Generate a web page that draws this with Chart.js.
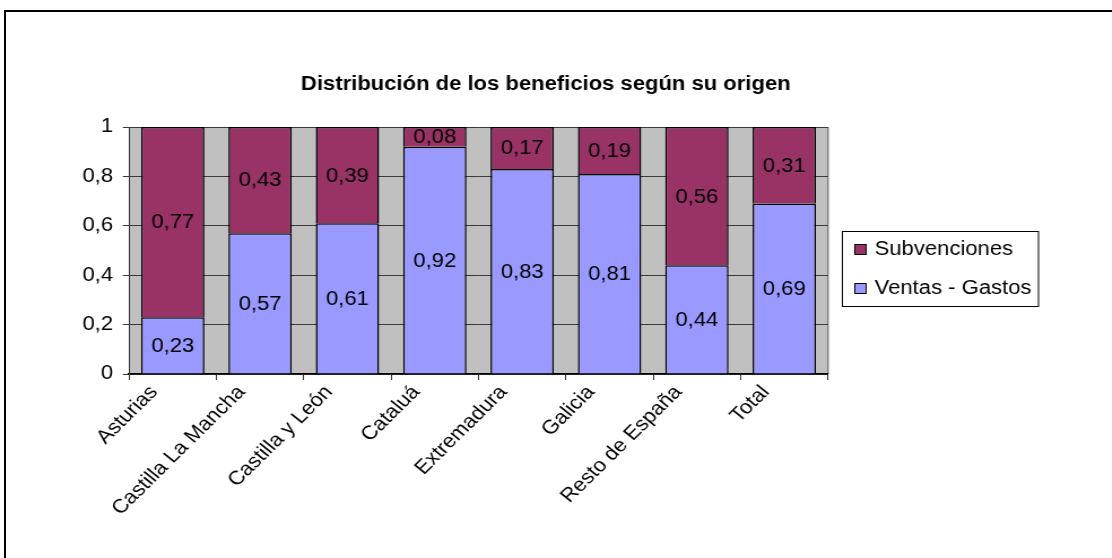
<!DOCTYPE html>
<html>
<head>
<meta charset="utf-8">
<title>Distribución de los beneficios según su origen</title>
<script src="https://cdn.jsdelivr.net/npm/chart.js@4"></script>
<style>
  html, body { margin: 0; padding: 0; background: #fff; overflow: hidden; }
  #frame { position: absolute; left: 4px; top: 10px; width: 1200px; height: 700px;
           border-left: 2px solid #000; border-top: 2px solid #000; }
  #wrap { position: absolute; left: 0; top: 0; width: 984px; height: 558px;
          transform: scaleX(1.13); transform-origin: 0 0; }
</style>
</head>
<body>
<div id="frame"></div>
<div id="wrap"><canvas id="chart" width="984" height="558"></canvas></div>
<script>
// data
var categories = ['Asturias', 'Castilla La Mancha', 'Castilla y León', 'Cataluá',
                  'Extremadura', 'Galicia', 'Resto de España', 'Total'];
var ventasGastos = [0.23, 0.57, 0.61, 0.92, 0.83, 0.81, 0.44, 0.69];
var subvenciones = [0.77, 0.43, 0.39, 0.08, 0.17, 0.19, 0.56, 0.31];
var yTickLabels = ['0', '0,2', '0,4', '0,6', '0,8', '1'];
var chartTitle = 'Distribución de los beneficios según su origen';

var FONT = "'Liberation Sans', Arial, sans-serif";
Chart.defaults.font.family = FONT;
Chart.defaults.font.size = 19.5;
Chart.defaults.color = '#000';

// grey plot area + right edge
var plotBackground = {
    id: 'plotBackground',
    beforeDraw: function(chart) {
        var a = chart.chartArea, ctx = chart.ctx;
        ctx.save();
        ctx.fillStyle = '#c0c0c0';
        ctx.fillRect(a.left, a.top, a.right - a.left, a.bottom - a.top);
        ctx.strokeStyle = '#808080';
        ctx.lineWidth = 1.5;
        ctx.beginPath();
        ctx.moveTo(a.right, a.top);
        ctx.lineTo(a.right, a.bottom);
        ctx.stroke();
        ctx.restore();
    }
};

// value labels centred in each segment
var segmentLabels = {
    id: 'segmentLabels',
    afterDatasetsDraw: function(chart) {
        var ctx = chart.ctx;
        ctx.save();
        ctx.font = '19.5px ' + FONT;
        ctx.fillStyle = '#000';
        ctx.textAlign = 'center';
        ctx.textBaseline = 'middle';
        chart.data.datasets.forEach(function(ds, i) {
            chart.getDatasetMeta(i).data.forEach(function(bar, j) {
                var txt = ds.data[j].toFixed(2).replace('.', ',');
                ctx.fillText(txt, bar.x, (bar.y + bar.base) / 2 + 1);
            });
        });
        ctx.restore();
    }
};

// title and boxed legend, Excel style
var titleAndLegend = {
    id: 'titleAndLegend',
    afterDraw: function(chart) {
        var ctx = chart.ctx;
        ctx.save();
        ctx.fillStyle = '#000';
        ctx.font = 'bold 19.5px ' + FONT;
        ctx.textAlign = 'center';
        ctx.textBaseline = 'alphabetic';
        ctx.fillText(chartTitle, 483, 89.5);

        var bx = 745, by = 231, bw = 173.5, bh = 75;
        ctx.strokeStyle = '#000';
        ctx.lineWidth = 1;
        ctx.strokeRect(bx + 0.5, by + 0.5, bw, bh);
        var items = chart.data.datasets.slice().reverse();
        ctx.font = '19.5px ' + FONT;
        ctx.textAlign = 'left';
        ctx.textBaseline = 'middle';
        items.forEach(function(ds, k) {
            var cy = 249 + k * 39;
            ctx.fillStyle = ds.backgroundColor;
            ctx.fillRect(756, cy - 5, 11, 11);
            ctx.strokeStyle = '#000';
            ctx.strokeRect(756.5, cy - 4.5, 10, 10);
            ctx.fillStyle = '#000';
            ctx.fillText(ds.label, 774, cy + 1);
        });
        ctx.restore();
    }
};

new Chart(document.getElementById('chart'), {
    type: 'bar',
    data: {
        labels: categories,
        datasets: [{
            label: 'Ventas - Gastos',
            data: ventasGastos,
            backgroundColor: '#9999ff',
            borderColor: '#000',
            borderWidth: 1.5,
            barPercentage: 0.725,
            categoryPercentage: 1
        }, {
            label: 'Subvenciones',
            data: subvenciones,
            backgroundColor: '#993366',
            borderColor: '#000',
            borderWidth: 1.5,
            barPercentage: 0.725,
            categoryPercentage: 1
        }]
    },
    options: {
        responsive: false,
        animation: false,
        devicePixelRatio: 1,
        layout: { padding: { top: 127, right: 251.3, bottom: 0, left: 0 } },
        plugins: {
            legend: { display: false },
            title: { display: false },
            tooltip: { enabled: false }
        },
        scales: {
            x: {
                stacked: true,
                afterFit: function(scale) { scale.height = 184; },
                grid: { drawOnChartArea: false, color: '#333', tickLength: 6, offset: true },
                border: { color: '#000', width: 1.5 },
                ticks: {
                    autoSkip: false,
                    minRotation: 48,
                    maxRotation: 48,
                    padding: 1,
                    labelOffset: -16.5
                }
            },
            y: {
                stacked: true,
                min: 0,
                max: 1,
                afterFit: function(scale) { scale.width = 114.2; },
                grid: { color: '#3a3a3a', tickLength: 5.5 },
                border: { color: '#333', width: 1 },
                ticks: {
                    stepSize: 0.2,
                    padding: 8.7,
                    callback: function(v, i) { return yTickLabels[i]; }
                }
            }
        }
    },
    plugins: [plotBackground, segmentLabels, titleAndLegend]
});
</script>
</body>
</html>
